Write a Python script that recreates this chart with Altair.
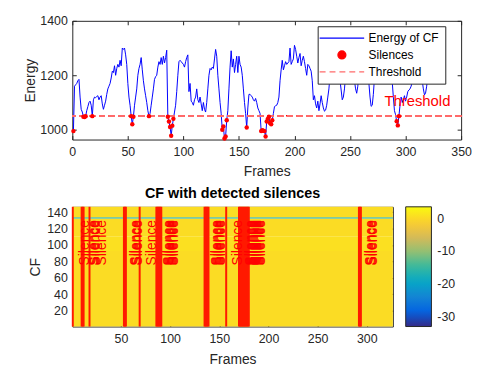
import altair as alt
import pandas as pd

FONT = "Liberation Sans"
TXT = "#262626"

# ---------------- data ----------------
energy = [
    995, 1160, 1165, 1170, 1180, 1185, 1120, 1075, 1065, 1048,
    1047, 1050, 1070, 1085, 1100, 1105, 1090, 1050, 1110, 1120,
    1118, 1122, 1125, 1110, 1120, 1125, 1095, 1075, 1090, 1105,
    1130, 1150, 1160, 1170, 1190, 1215, 1210, 1235, 1200, 1225,
    1240, 1230, 1255, 1235, 1300, 1295, 1300, 1275, 1240, 1170,
    1120, 1090, 1050, 1020, 1048, 1090, 1120, 1150, 1200, 1225,
    1240, 1265, 1220, 1180, 1150, 1125, 1100, 1070, 1050, 1060,
    1090, 1120, 1150, 1185, 1195, 1200, 1230, 1250, 1240, 1265,
    1240, 1270, 1245, 1265, 1292, 1048, 1030, 1010, 978, 1015,
    1040, 1065, 1090, 1140, 1200, 1250, 1255, 1250, 1245, 1240,
    1230, 1250, 1265, 1275, 1140, 1170, 1105, 1100, 1090, 1110,
    1120, 1150, 1110, 1100, 1120, 1095, 1070, 1100, 1075, 1065,
    1100, 1150, 1200, 1225, 1220, 1230, 1225, 1260, 1295, 1270,
    1200, 1150, 1100, 1060, 1000, 1012, 968, 975, 1035, 1070,
    1150, 1230, 1290, 1230, 1260, 1210, 1240, 1270, 1210, 1270,
    1240, 1230, 1200, 1150, 1100, 1060, 1008, 1080, 1130, 1130,
    1125, 1120, 1110, 1105, 1115, 1100, 1080, 1070, 1060, 995,
    998, 996, 995, 975, 1030, 1040, 1048, 1025, 1020, 1035,
    1060, 1085, 1088, 1090, 1100, 1120, 1180, 1220, 1255, 1220,
    1235, 1250, 1240, 1245, 1250, 1300, 1240, 1250, 1260, 1310,
    1295, 1270, 1245, 1265, 1280, 1235, 1255, 1270, 1250, 1225,
    1200, 1240, 1235, 1225, 1215, 1180, 1110, 1125, 1095, 1080,
    1105, 1070, 1095, 1125, 1100, 1080, 1068, 1072, 1090, 1120,
    1150, 1200, 1220, 1240, 1260, 1250, 1270, 1245, 1230, 1210,
    1180, 1146, 1110, 1120, 1150, 1200, 1230, 1250, 1240, 1260,
    1255, 1230, 1210, 1180, 1150, 1134, 1160, 1210, 1240, 1260,
    1250, 1270, 1265, 1240, 1220, 1190, 1170, 1120, 1086, 1090,
    1130, 1190, 1230, 1250, 1260, 1240, 1265, 1250, 1235, 1250,
    1220, 1240, 1230, 1245, 1220, 1200, 1190, 1175, 1120, 1070,
    1055, 1031, 1016, 1050, 1090, 1120, 1100, 1110, 1125, 1105,
    1120, 1140, 1146, 1150, 1160, 1175, 1200, 1220, 1240, 1230,
    1250, 1240, 1220, 1200, 1180, 1150, 1128, 1135, 1160, 1200,
    1230, 1250,
]
threshold = 1050
silence_frames = [1, 10, 11, 12, 18, 53, 54, 55, 69,
                  86, 87, 88, 89, 90, 91,
                  135, 136, 137, 138, 139, 157,
                  170, 171, 172, 173, 174, 175, 176, 177, 178, 179, 180,
                  292, 293, 294]
legend_names = ["Energy of CF", "Silences", "Threshold"]
threshold_label = "Threshold"
threshold_label_frame = 281
threshold_label_energy = 1104

top_x_ticks = [0, 50, 100, 150, 200, 250, 300, 350]
top_y_ticks = [1000, 1200, 1400]
top_x_domain = [0, 350]
top_y_domain = [964, 1400]

# CF map (rows of the image, constant along frames)
cf_lo = [0.5, 92.5, 110.5, 132.3, 133.7]
cf_hi = [92.5, 110.5, 132.3, 133.7, 146.5]
cf_val = [0.4, 0.9, 0.4, -17.0, 0.4]
frame_lo, frame_hi = 0.5, 326.5
silence_text = "Silence"
silence_text_shift = 12.5
silence_text_cf = 75

bot_x_ticks = [50, 100, 150, 200, 250, 300]
bot_y_ticks = [20, 40, 60, 80, 100, 120, 140]
bot_y_domain = [0.5, 146.5]
cbar_ticks = [0, -10, -20, -30]
value_domain = [-33, 3.6]
parula = ["#352a87", "#0363e1", "#1485d4", "#06a7c6", "#38b99e",
          "#92bf73", "#d9ba56", "#fcce2e", "#f9fb0e"]

# ---------------- tables ----------------
energy_df = pd.DataFrame({"frame": list(range(1, len(energy) + 1)), "energy": energy})
sil_df = pd.DataFrame({"frame": silence_frames,
                       "energy": [energy[f - 1] for f in silence_frames]})
leg_df = pd.DataFrame({"name": legend_names})
thr_lab_df = pd.DataFrame({"frame": [threshold_label_frame],
                           "energy": [threshold_label_energy],
                           "t": [threshold_label]})
cf_df = pd.DataFrame({"f0": [frame_lo] * len(cf_lo), "f1": [frame_hi] * len(cf_lo),
                      "c0": cf_lo, "c1": cf_hi, "v": cf_val})
sil_txt_df = pd.DataFrame({"frame": silence_frames})

# ---------------- axes ----------------
def axis(**kw):
    base = dict(grid=False, domain=False, ticks=True, tickSize=4, offset=-4,
                tickColor=TXT, tickWidth=1, labelColor=TXT, labelFont=FONT,
                labelFontSize=12.5, titleFont=FONT, titleFontSize=14,
                titleColor=TXT, titleFontWeight="normal", format="d",
                labelFlush=False)
    base.update(kw)
    return alt.Axis(**base)

def mirror_axis(orient, values):
    return axis(orient=orient, values=values, labels=False, title=None)

xs_top = alt.Scale(domain=top_x_domain, nice=False)
ys_top = alt.Scale(domain=top_y_domain, nice=False, zero=False)
X_top = alt.X("frame:Q", scale=xs_top,
              axis=axis(values=top_x_ticks, title="Frames", labelPadding=6, titlePadding=7))
Y_top = alt.Y("energy:Q", scale=ys_top,
              axis=axis(values=top_y_ticks, title="Energy", labelPadding=5, titlePadding=2))

line = alt.Chart(energy_df).mark_line(color="#0000FF", strokeWidth=1, clip=True).encode(
    x=X_top, y=Y_top)
top_ticks = alt.Chart(energy_df).mark_point(opacity=0, size=1).encode(
    x=alt.X("frame:Q", axis=mirror_axis("top", top_x_ticks)),
    y=alt.Y("energy:Q", axis=mirror_axis("right", top_y_ticks)))
thr = alt.Chart(energy_df).mark_rule(color="#FF6B6B", strokeWidth=1, strokeDash=[6, 4]).encode(
    y=alt.YDatum(threshold, axis=None))
pts = alt.Chart(sil_df).mark_circle(color="#FF0000", size=20, opacity=1).encode(
    x=alt.X("frame:Q", axis=None), y=alt.Y("energy:Q", axis=None))
thr_lab = alt.Chart(thr_lab_df).mark_text(color="#FF0000", font=FONT, fontSize=15,
                                          align="left", baseline="middle").encode(
    x=alt.X("frame:Q", axis=None), y=alt.Y("energy:Q", axis=None), text="t:N")

line_path = "M-9,0H9"
circle_path = "M-1.6,0A1.6,1.6,0,1,0,1.6,0A1.6,1.6,0,1,0,-1.6,0Z"
dash_path = "M-9,0H-6.6M-5,0H-2.6M-1,0H1.4M3,0H5.4M7,0H9"
leg_kw = dict(title=None, orient="none", legendX=248, legendY=5.5,
              fillColor="white", strokeColor=TXT, padding=6, rowPadding=4,
              symbolSize=25, symbolStrokeWidth=1.3, symbolOffset=12.5, symbolOpacity=1,
              labelOffset=21, labelFont=FONT, labelFontSize=12, labelColor="black")
leg = alt.Chart(leg_df).mark_point(clip=True, filled=True, opacity=1).encode(
    x=alt.value(-200), y=alt.value(-200),
    fill=alt.Fill("name:N", scale=alt.Scale(domain=legend_names,
                  range=["transparent", "#FF0000", "transparent"]), legend=alt.Legend(**leg_kw)),
    stroke=alt.Stroke("name:N", scale=alt.Scale(domain=legend_names,
                      range=["#0000FF", "#FF0000", "#FF6B6B"]), legend=alt.Legend(**leg_kw)),
    shape=alt.Shape("name:N", scale=alt.Scale(domain=legend_names,
                    range=[line_path, circle_path, dash_path]), legend=alt.Legend(**leg_kw)),
)

top = alt.layer(line, top_ticks, thr, pts, thr_lab, leg).resolve_axis(
    x="independent", y="independent").properties(width=393, height=120)

# ---------------- bottom ----------------
xs_bot = alt.Scale(domain=[frame_lo, frame_hi], nice=False, zero=False)
ys_bot = alt.Scale(domain=bot_y_domain, nice=False, zero=False)
col_scale = alt.Scale(domain=value_domain, range=parula, interpolate="rgb", clamp=True)

heat = alt.Chart(cf_df).mark_rect(strokeWidth=0).encode(
    x=alt.X("f0:Q", scale=xs_bot,
            axis=axis(values=bot_x_ticks, title="Frames", labelPadding=6, titlePadding=8)),
    x2="f1:Q",
    y=alt.Y("c0:Q", scale=ys_bot,
            axis=axis(values=bot_y_ticks, title=["", "CF"], labelPadding=5, titlePadding=4,
                      titleLineHeight=20)),
    y2="c1:Q",
    color=alt.Color("v:Q", scale=col_scale, legend=alt.Legend(
        title=None, orient="right", offset=12, direction="vertical", type="gradient",
        gradientLength=121, gradientThickness=26, gradientStrokeColor=TXT,
        gradientStrokeWidth=1, values=cbar_ticks, labelExpr="'' + datum.value",
        labelFont=FONT, labelFontSize=12.5, labelColor=TXT, labelOffset=6, padding=0)),
)
bot_ticks = alt.Chart(cf_df).mark_point(opacity=0, size=1).encode(
    x=alt.X("f0:Q", axis=mirror_axis("top", bot_x_ticks)),
    y=alt.Y("c0:Q", axis=mirror_axis("right", bot_y_ticks)))
rules = alt.Chart(sil_df).mark_rule(color="#FF1A00", strokeWidth=2).encode(
    x=alt.X("frame:Q", axis=None))
txt = alt.Chart(sil_txt_df).transform_calculate(
    tx=f"datum.frame + {silence_text_shift}", ty=f"{silence_text_cf}"
).mark_text(text=silence_text, color="#FF0000", font=FONT, fontSize=14, angle=270,
            align="left", baseline="middle").encode(
    x=alt.X("tx:Q", axis=None), y=alt.Y("ty:Q", axis=None))

bottom = alt.layer(heat, bot_ticks, rules, txt).resolve_axis(
    x="independent", y="independent").properties(
    width=324, height=121,
    title=alt.TitleParams("CF with detected silences", font=FONT, fontSize=14.5,
                          fontWeight="bold", color="black", offset=4, anchor="middle"))

chart = alt.vconcat(top, bottom, spacing=7).resolve_scale(
    color="independent", fill="independent", stroke="independent", shape="independent"
).resolve_legend(
    color="independent", fill="independent", stroke="independent", shape="independent"
).configure(
    padding={"left": 0, "top": 4, "right": 0, "bottom": 3}
).configure_view(stroke=TXT, strokeWidth=1)

chart.save("out.html", embed_options={"renderer": "svg", "actions": False})
